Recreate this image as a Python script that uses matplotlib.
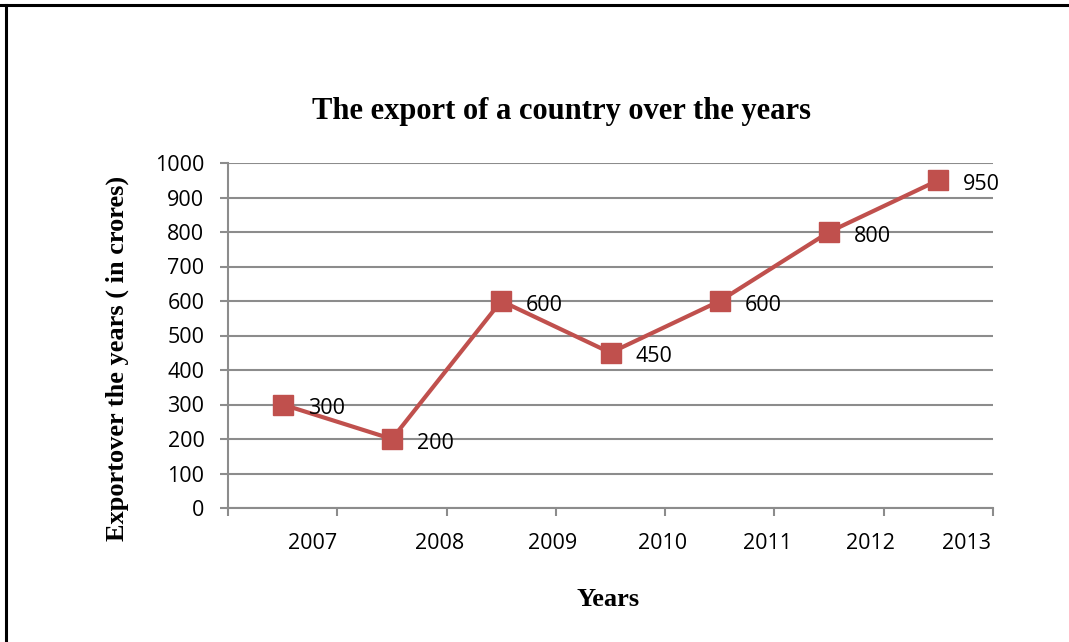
import matplotlib.pyplot as plt
from matplotlib.lines import Line2D
import numpy as np

years = ['2007', '2008', '2009', '2010', '2011', '2012', '2013']
exports = [300, 200, 600, 450, 600, 800, 950]
yticks = list(range(0, 1001, 100))
# year labels sit loosely under the category boundaries, as in the source
label_pos = [0.27, 1.44, 2.47, 3.48, 4.44, 5.38, 6.26]

red = '#C0504D'
grid_col = '#8C8C8C'
serif = ['Liberation Serif', 'DejaVu Serif']
sans = ['Open Sans', 'DejaVu Sans']

fig = plt.figure(figsize=(10.69, 6.42), dpi=100)
ax = fig.add_axes([228 / 1069, 1 - 508 / 642, (993 - 228) / 1069, (508 - 163) / 642])

x = np.arange(len(years))
ax.plot(x, exports, color=red, lw=3, marker='s', markersize=15,
        markerfacecolor=red, markeredgecolor=red, zorder=3)
for xi, v in zip(x, exports):
    ax.annotate(str(v), (xi, v), xytext=(18, -3), textcoords='offset points',
                va='center', ha='left', fontsize=15.5, family=sans, color='black', zorder=4)

ax.set_xlim(-0.5, len(years) - 0.5)
ax.set_ylim(0, 1000)
ax.set_yticks(yticks)
ax.set_yticklabels([str(t) for t in yticks], fontsize=15.5, family=sans)
ax.yaxis.grid(True, color=grid_col, lw=1.5)
ax.set_axisbelow(True)

ax.set_xticks(np.arange(-0.5, len(years)), minor=True)
ax.set_xticks(label_pos)
ax.set_xticklabels(years, fontsize=15.5, family=sans)
ax.tick_params(axis='x', which='major', length=0, pad=18)
ax.tick_params(axis='x', which='minor', length=6, width=1.5, color=grid_col)
ax.tick_params(axis='y', length=6, width=1.5, color=grid_col, pad=11)

for s in ['top', 'right']:
    ax.spines[s].set_visible(False)
for s in ['left', 'bottom']:
    ax.spines[s].set_color(grid_col)
    ax.spines[s].set_linewidth(1.5)

fig.text(561 / 1069, 1 - 112 / 642, 'The export of a country over the years',
         ha='center', va='center', fontsize=22, fontweight='bold', family=serif)
fig.text(117 / 1069, 1 - 358 / 642, 'Exportover the years ( in crores)',
         ha='center', va='center', rotation=90, fontsize=19, fontweight='bold', family=serif)
fig.text(608 / 1069, 1 - 600 / 642, 'Years',
         ha='center', va='center', fontsize=19, fontweight='bold', family=serif)

# frame lines at top and left edge
fig.add_artist(Line2D([0, 1], [1 - 5 / 642, 1 - 5 / 642], color='black', lw=2.2))
fig.add_artist(Line2D([6 / 1069, 6 / 1069], [0, 1 - 5 / 642], color='black', lw=2.2))

fig.savefig('out.png', dpi=100)
